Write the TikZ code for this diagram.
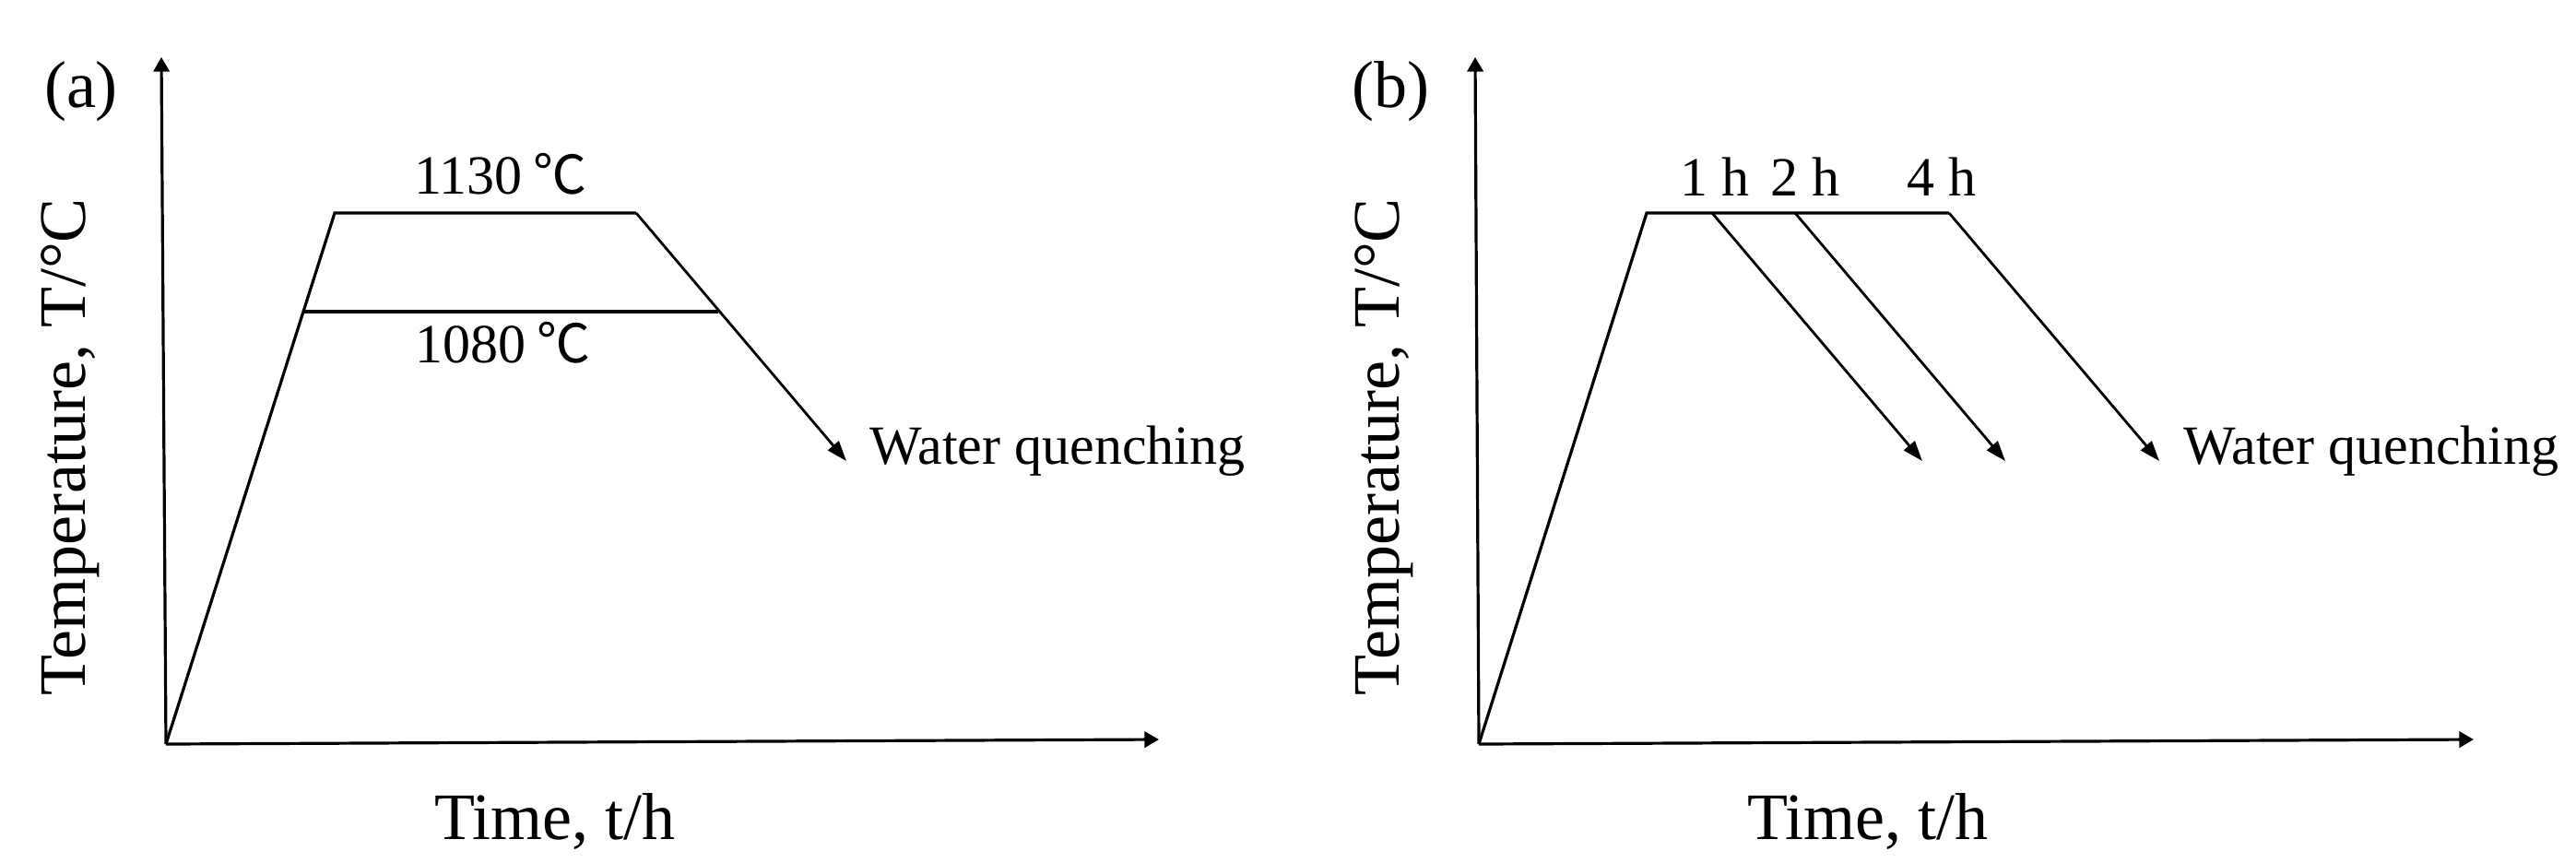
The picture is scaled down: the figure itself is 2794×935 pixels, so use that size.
\documentclass[tikz,border=0pt]{standalone}
\usepackage{fontspec}
\setmainfont{Liberation Serif}
\newfontfamily\cjk{Noto Sans CJK SC}
\usetikzlibrary{arrows.meta}
\newcommand{\degC}{{\cjk\fontsize{14.5}{17}\selectfont ℃}}
\begin{document}
\begin{tikzpicture}[x=0.25pt,y=-0.25pt,
  curve/.style={line width=0.8pt, black},
  axis/.style={line width=0.8pt, -{Triangle[length=3.9pt,width=4.3pt]}},
  quench/.style={line width=0.7pt, -{Triangle[length=5.5pt,width=3.8pt]}},
  axlabel/.style={font=\fontsize{18}{21}\selectfont, inner sep=0pt},
  note/.style={font=\fontsize{15}{18}\selectfont, inner sep=0pt},
]
\useasboundingbox (0,0) rectangle (2794,935);

% ---------- panel (a) ----------
\coordinate (Oa) at (180,807);
\coordinate (Ya) at (175,62);
\coordinate (Xa) at (1257,802);
\coordinate (A1) at (363,231);
\coordinate (A2) at (690,231);
\coordinate (Aq) at (918,500);
\coordinate (B1) at (329,338);
\coordinate (B2) at (779,338);

\draw[axis] (Oa) -- (Ya);
\draw[axis] (Oa) -- (Xa);
\draw[curve] (Oa) -- (A1) -- (A2);
\draw[quench] (A2) -- (Aq);
\draw[curve, line width=1pt] (B1) -- (B2);

\node[note, anchor=base] (t1130) at (543,210) {1130\hspace{0.2em}\degC};
\node[note, anchor=base] (t1080) at (545,393) {1080\hspace{0.2em}\degC};
\node[note, anchor=base west] (wqa) at (943,503) {Water quenching};
\node[axlabel, anchor=base] (la) at (88,116) {(a)};
\node[axlabel, anchor=base, rotate=90] (ya) at (93,485) {Temperature, T/°C};
\node[axlabel, anchor=base] (xa) at (602,910) {Time, t/h};

% ---------- panel (b) ----------
\coordinate (Ob) at (1604,807);
\coordinate (Yb) at (1600,62);
\coordinate (Xb) at (2683,802);
\coordinate (C1) at (1786,231);
\coordinate (C2) at (2114,231);
\coordinate (D1) at (1857,231);
\coordinate (D2) at (1947,231);
\coordinate (E1) at (2085,500);
\coordinate (E2) at (2175,500);
\coordinate (E4) at (2342,500);

\draw[axis] (Ob) -- (Yb);
\draw[axis] (Ob) -- (Xb);
\draw[curve] (Ob) -- (C1) -- (C2);
\draw[quench] (D1) -- (E1);
\draw[quench] (D2) -- (E2);
\draw[quench] (C2) -- (E4);

\node[note, anchor=base] (h1) at (1860,212) {1 h};
\node[note, anchor=base] (h2) at (1958,212) {2 h};
\node[note, anchor=base] (h4) at (2106,212) {4 h};
\node[note, anchor=base west] (wqb) at (2368,503) {Water quenching};
\node[axlabel, anchor=base] (lb) at (1508,116) {(b)};
\node[axlabel, anchor=base, rotate=90] (yb) at (1517,485) {Temperature, T/°C};
\node[axlabel, anchor=base] (xb) at (2026,910) {Time, t/h};
\end{tikzpicture}
\end{document}
